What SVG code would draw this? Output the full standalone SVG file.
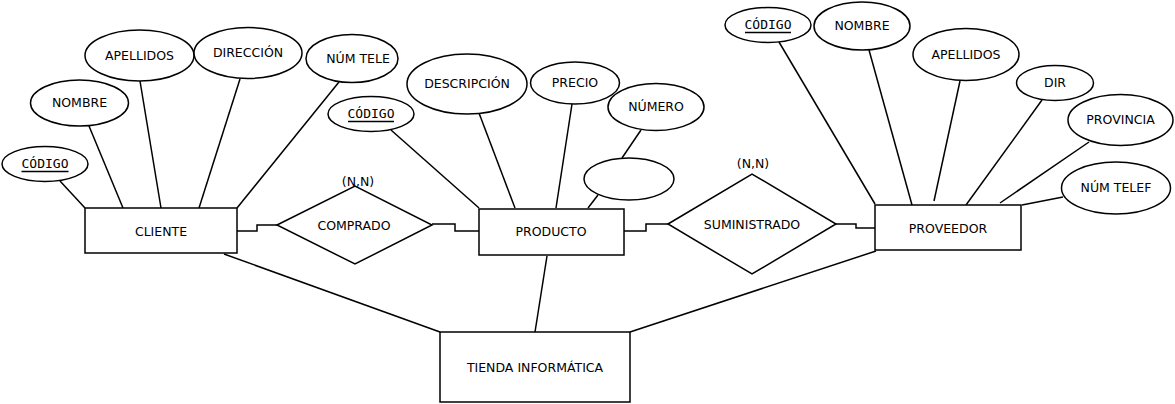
<svg xmlns="http://www.w3.org/2000/svg" width="1175" height="404" viewBox="0 0 1175 404">
<style>
.shape{fill:#fff;stroke:#000;stroke-width:1.5}
.conn line,.conn polyline{fill:none;stroke:#000;stroke-width:1.5}
text{font-family:"DejaVu Sans","Liberation Sans",sans-serif;font-size:12.5px;fill:#000;text-anchor:middle;dominant-baseline:central}
text.key{font-family:"DejaVu Sans Mono","Liberation Mono",monospace;font-size:13px}
.ul{stroke:#000;stroke-width:1.5}
</style>
<rect width="1175" height="404" fill="#fff"/>
<g id="connectors" class="conn">
<line x1="60" y1="181" x2="85" y2="208"/>
<line x1="89" y1="126" x2="123" y2="208"/>
<line x1="140" y1="81" x2="161" y2="208"/>
<line x1="240" y1="79" x2="199" y2="208"/>
<line x1="339" y1="82" x2="237" y2="208"/>
<line x1="391" y1="130" x2="479" y2="208"/>
<line x1="479" y1="113" x2="515" y2="208"/>
<line x1="572" y1="104" x2="556" y2="208"/>
<line x1="641" y1="130" x2="622" y2="158"/>
<line x1="598" y1="195" x2="588" y2="208"/>
<line x1="779" y1="42" x2="875" y2="204"/>
<line x1="869" y1="50" x2="912" y2="205"/>
<line x1="960" y1="81" x2="934" y2="201"/>
<line x1="1042" y1="100" x2="966" y2="205"/>
<line x1="1089" y1="142" x2="1000" y2="203"/>
<line x1="1063" y1="197" x2="1022" y2="205"/>
<polyline points="237,231 257,231 257,225 277,225"/>
<polyline points="432,224 455,224 455,231 479,231"/>
<polyline points="624,231 646,231 646,224 668,224"/>
<polyline points="836,224 856,224 856,228 875,228"/>
<line x1="224" y1="254" x2="440" y2="332"/>
<line x1="547" y1="256" x2="535" y2="332"/>
<line x1="876" y1="251" x2="630" y2="332"/>
</g>
<g id="cliente"><rect class="shape" x="85" y="208" width="152" height="45"/><text x="161" y="231">CLIENTE</text></g>
<g id="producto"><rect class="shape" x="479" y="209" width="145" height="46"/><text x="551" y="231.5">PRODUCTO</text></g>
<g id="proveedor"><rect class="shape" x="875" y="205" width="146" height="45"/><text x="948" y="228">PROVEEDOR</text></g>
<g id="tienda"><rect class="shape" x="440" y="332" width="190" height="70"/><text x="535" y="367">TIENDA INFORMÁTICA</text></g>
<g id="comprado"><polygon class="shape" points="277,225 355,186 432,225 355,264"/><text x="354" y="225">COMPRADO</text><text x="358" y="181">(N,N)</text></g>
<g id="suministrado"><polygon class="shape" points="668,224 752,174 836,224 752,274"/><text x="752" y="224.5">SUMINISTRADO</text><text x="753" y="163">(N,N)</text></g>
<g id="cli-codigo"><ellipse class="shape" cx="45" cy="164" rx="43" ry="17.5"/><text class="key" x="45" y="163">CÓDIGO</text><line class="ul" x1="21.5" y1="171.5" x2="68.5" y2="171.5"/></g>
<g id="cli-nombre"><ellipse class="shape" cx="79.5" cy="103" rx="49" ry="23"/><text x="79.5" y="102.5">NOMBRE</text></g>
<g id="cli-apellidos"><ellipse class="shape" cx="139.5" cy="55.5" rx="54.5" ry="25.5"/><text x="139.5" y="55.5">APELLIDOS</text></g>
<g id="cli-direccion"><ellipse class="shape" cx="248" cy="53" rx="54" ry="25.5"/><text x="248" y="52.5">DIRECCIÓN</text></g>
<g id="cli-numtele"><ellipse class="shape" cx="352" cy="58.5" rx="46" ry="24"/><text x="358" y="58">NÚM TELE</text></g>
<g id="pro-codigo"><ellipse class="shape" cx="371" cy="114" rx="43" ry="17.5"/><text class="key" x="371" y="113">CÓDIGO</text><line class="ul" x1="348" y1="121.5" x2="394" y2="121.5"/></g>
<g id="pro-descripcion"><ellipse class="shape" cx="467" cy="84" rx="60" ry="30"/><text x="467" y="83.5">DESCRIPCIÓN</text></g>
<g id="pro-precio"><ellipse class="shape" cx="575" cy="83" rx="44.5" ry="21"/><text x="575" y="82.5">PRECIO</text></g>
<g id="pro-numero"><ellipse class="shape" cx="656" cy="107" rx="48" ry="23.5"/><text x="656" y="106">NÚMERO</text></g>
<g id="pro-vacio"><ellipse class="shape" cx="629" cy="179" rx="45" ry="21"/></g>
<g id="prv-codigo"><ellipse class="shape" cx="768" cy="25" rx="43" ry="17.5"/><text class="key" x="768" y="24.5">CÓDIGO</text><line class="ul" x1="745" y1="32.5" x2="791" y2="32.5"/></g>
<g id="prv-nombre"><ellipse class="shape" cx="862" cy="26" rx="48" ry="24"/><text x="862" y="25.5">NOMBRE</text></g>
<g id="prv-apellidos"><ellipse class="shape" cx="966" cy="54.5" rx="53" ry="26"/><text x="966" y="54.5">APELLIDOS</text></g>
<g id="prv-dir"><ellipse class="shape" cx="1055" cy="83" rx="38.5" ry="17.5"/><text x="1055" y="82">DIR</text></g>
<g id="prv-provincia"><ellipse class="shape" cx="1120.5" cy="120" rx="52.5" ry="25.5"/><text x="1120.5" y="119.5">PROVINCIA</text></g>
<g id="prv-numtelef"><ellipse class="shape" cx="1116" cy="188" rx="54.5" ry="26"/><text x="1116" y="187.5">NÚM TELEF</text></g>
</svg>
